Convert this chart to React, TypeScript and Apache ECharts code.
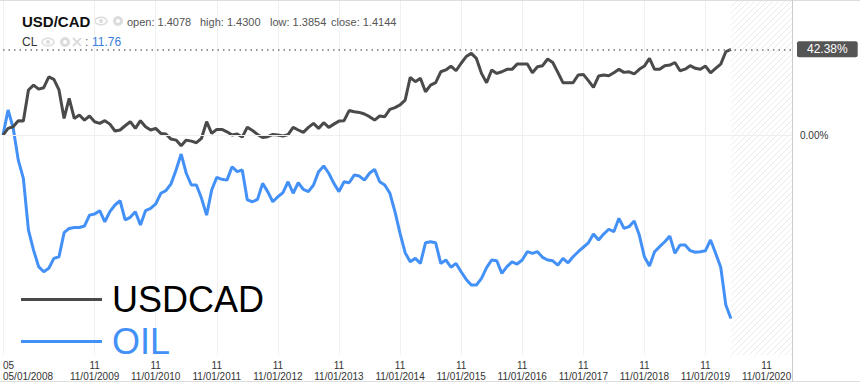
import React, { useEffect, useRef } from "react";
import * as echarts from "echarts";

// ---------- data ----------
const START_YEAR = 2008;
const START_MONTH = 5;
const MONTH_COUNT = 156; // axis runs past the last data point (future zone)

const categories: string[] = [];
for (let k = 0; k < MONTH_COUNT; k++) {
  const m = START_MONTH - 1 + k;
  const y = START_YEAR + Math.floor(m / 12);
  const mm = (m % 12) + 1;
  categories.push(`${y}-${mm < 10 ? "0" + mm : mm}`);
}

const usdcadPct = [
  0, 3.3, 4.1, 7.1, 6.9, 22.3, 24.7, 22.7, 23.4, 28.8,
  27.5, 22.3, 8.2, 18.1, 8.2, 9.9, 7.4, 9.4, 6.6, 5.8,
  7.1, 5.4, 2.0, 2.5, 4.6, 6.6, 3.3, 7.1, 4.1, 2.5,
  3.3, 0.8, 0.5, -2.0, -2.5, -5.3, -2.5, -3.0, -3.8, -1.6,
  6.6, 0.8, 2.8, 2.8, 1.6, 0, 0.5, -1.0, 3.9, 2.3,
  0.3, -1.2, -0.8, 0.3, 0, -0.5, 0.2, 3.8, 2.5, 1.3,
  3.8, 5.8, 3.3, 6.1, 3.8, 5.4, 6.9, 7.1, 12.1, 11.5,
  11.2, 10.4, 9.1, 7.4, 9.4, 9.1, 12.7, 13.6, 14.9, 17.3,
  28.5, 26.4, 28.1, 21.4, 24.7, 25.9, 31.3, 32.2, 34.1, 31.8,
  35.5, 38.8, 40.4, 37.9, 30.5, 25.9, 32.2, 30.5, 31.3, 32.5,
  32.5, 35.1, 35.1, 35.1, 30.8, 33.8, 34.3, 37.6, 35.9, 31.0,
  25.9, 25.9, 25.9, 29.7, 30.0, 26.9, 23.6, 29.2, 29.7, 29.3,
  30.8, 32.5, 31.0, 31.3, 30.2, 32.5, 34.1, 37.9, 32.5, 32.5,
  34.3, 34.6, 35.9, 31.8, 32.6, 34.3, 33.0, 32.5, 34.1, 30.8,
  33.0, 35.1, 41.2, 42.38,
];

const oilPct = [
  0, 12.4, 3.5, -12.4, -21.4, -47.0, -56.9, -65.1, -67.6, -65.9,
  -61.0, -60.2, -48.3, -46.2, -45.7, -45.7, -45.0, -39.6, -39.1, -37.4,
  -42.9, -37.9, -34.6, -32.5, -42.0, -40.7, -37.9, -44.5, -37.4, -36.3,
  -34.1, -28.8, -27.5, -24.2, -17.3, -9.4, -18.9, -24.7, -24.7, -31.3,
  -39.6, -27.2, -20.9, -21.9, -22.3, -15.7, -18.1, -17.3, -32.1, -33.0,
  -31.8, -23.9, -28.0, -33.0, -30.5, -28.5, -23.1, -28.8, -23.6, -26.9,
  -28.0, -24.7, -18.1, -15.3, -18.9, -23.9, -28.0, -23.1, -23.6, -19.8,
  -20.3, -22.3, -18.9, -17.0, -23.1, -24.7, -28.8, -37.9, -48.6, -58.2,
  -62.7, -61.0, -63.5, -53.3, -52.8, -53.3, -63.5, -61.8, -65.4, -63.5,
  -67.6, -71.4, -74.2, -74.2, -70.9, -65.6, -61.8, -62.2, -68.4, -65.1,
  -62.7, -63.8, -61.8, -57.7, -58.5, -57.7, -60.5, -61.8, -62.2, -64.3,
  -61.0, -63.2, -60.2, -57.7, -55.5, -53.3, -49.0, -51.9, -49.0, -46.6,
  -47.8, -41.2, -46.2, -45.3, -42.5, -49.5, -60.2, -64.8, -57.7, -55.2,
  -52.8, -50.0, -58.5, -54.4, -54.4, -57.2, -58.0, -57.7, -57.2, -51.9,
  -58.5, -65.4, -84.1, -90.77,
];

const seriesNames = ["USDCAD", "OIL"];
const headerSymbol = "USD/CAD";
const headerFields = ["open: 1.4078", "high: 1.4300", "low: 1.3854", "close: 1.4144"];
const clName = "CL";
const clValue = "11.76";

// ---------- style ----------
const FONT = 'Arial, "Liberation Sans", sans-serif';
const DARK = "#4a4a4a";
const BLUE = "#4390f7";
const W = 860;
const H = 384;
const GRID_LEFT = 2;
const GRID_RIGHT = 68;
const GRID_TOP = 0;
const GRID_BOTTOM = 29;
const Y_MIN = -108.8;
const Y_MAX = 66.8;

// first label, then every November from the second one on
const isTick = (idx: number, val: string) => idx === 0 || (idx >= 12 && val.slice(5) === "11");

function makeHatch(): any {
  const c = document.createElement("canvas");
  c.width = 6;
  c.height = 6;
  const ctx = c.getContext("2d");
  if (ctx) {
    ctx.fillStyle = "#ffffff";
    ctx.fillRect(0, 0, 6, 6);
    ctx.strokeStyle = "#ebebeb";
    ctx.lineWidth = 1;
    ctx.beginPath();
    ctx.moveTo(-1, 7);
    ctx.lineTo(7, -1);
    ctx.moveTo(-4, 4);
    ctx.lineTo(4, -4);
    ctx.moveTo(2, 10);
    ctx.lineTo(10, 2);
    ctx.stroke();
  }
  return { image: c, repeat: "repeat", imageWidth: 6, imageHeight: 6 };
}

export default function App() {
  const ref = useRef<HTMLDivElement>(null);

  useEffect(() => {
    if (!ref.current) return;
    const chart = echarts.init(ref.current, null, { renderer: "svg" });
    const lastIdx = usdcadPct.length - 1;
    const sepX = W - GRID_RIGHT + 0.5;

    const iconColor = "#dcdcdc";
    const eye = (cx: number, cy: number) => [
      { type: "ellipse", shape: { cx, cy, rx: 6, ry: 3.8 }, style: { fill: "none", stroke: iconColor, lineWidth: 1.5 } },
      { type: "circle", shape: { cx, cy, r: 2 }, style: { fill: iconColor } },
    ];
    const gear = (cx: number, cy: number) => [
      { type: "ring", shape: { cx, cy, r: 5, r0: 2 }, style: { fill: iconColor } },
    ];
    const cross = (cx: number, cy: number) => [
      { type: "line", shape: { x1: cx - 4, y1: cy - 4, x2: cx + 4, y2: cy + 4 }, style: { stroke: iconColor, lineWidth: 2 } },
      { type: "line", shape: { x1: cx - 4, y1: cy + 4, x2: cx + 4, y2: cy - 4 }, style: { stroke: iconColor, lineWidth: 2 } },
    ];
    const fieldX = [127, 200, 270, 331];

    const graphics: any[] = [
      { type: "line", shape: { x1: 0, y1: 0.5, x2: W, y2: 0.5 }, style: { stroke: "#dddddd", lineWidth: 1 }, z: 100 },
      { type: "line", shape: { x1: 0, y1: 381.5, x2: W, y2: 381.5 }, style: { stroke: "#dddddd", lineWidth: 1 }, z: 100 },
      { type: "line", shape: { x1: sepX, y1: 0, x2: sepX, y2: 382 }, style: { stroke: "#cccccc", lineWidth: 1 }, z: 100 },
      {
        type: "text", x: 22, y: 21, z: 100,
        style: { text: headerSymbol, font: `bold 15px ${FONT}`, fill: "#111", textVerticalAlign: "middle" },
      },
      ...eye(101, 21),
      ...gear(118, 21),
      ...headerFields.map((t, k) => ({
        type: "text", x: fieldX[k], y: 22, z: 100,
        style: { text: t, font: `11px ${FONT}`, fill: "#555", textVerticalAlign: "middle" },
      })),
      {
        type: "text", x: 22, y: 42, z: 100,
        style: { text: clName, font: `12px ${FONT}`, fill: "#333", textVerticalAlign: "middle" },
      },
      ...eye(48, 42),
      ...gear(65, 42),
      ...cross(77, 42),
      {
        type: "text", x: 85, y: 42, z: 100,
        style: { text: ":", font: `12px ${FONT}`, fill: "#666", textVerticalAlign: "middle" },
      },
      {
        type: "text", x: 92, y: 42, z: 100,
        style: { text: clValue, font: `12px ${FONT}`, fill: "#3b7ddd", textVerticalAlign: "middle" },
      },
    ];

    const boxLabel = (text: string, bg: string) => ({
      show: true,
      position: "end",
      distance: 5,
      formatter: text,
      color: "#fff",
      fontFamily: FONT,
      fontSize: 12,
      backgroundColor: bg,
      padding: [2, 10, 2, 10],
      borderRadius: 2,
    });

    chart.setOption({
      animation: false,
      backgroundColor: "#fff",
      grid: { left: GRID_LEFT, right: GRID_RIGHT, top: GRID_TOP, bottom: GRID_BOTTOM, containLabel: false },
      legend: {
        orient: "vertical",
        left: 16,
        top: 274,
        icon: "rect",
        itemWidth: 81,
        itemHeight: 3,
        itemGap: 1,
        selectedMode: false,
        textStyle: { fontSize: 36, lineHeight: 41, fontFamily: FONT, padding: [0, 0, 0, 5] },
        data: [
          { name: seriesNames[0], textStyle: { color: "#000" } },
          { name: seriesNames[1], textStyle: { color: BLUE } },
        ],
      },
      xAxis: {
        type: "category",
        data: categories,
        boundaryGap: false,
        axisLine: { show: false },
        axisTick: { show: false },
        axisLabel: {
          interval: isTick,
          alignMinLabel: "left",
          hideOverlap: false,
          formatter: (val: string) => {
            const y = val.slice(0, 4);
            const m = val.slice(5);
            return `${m}\n${m}/01/${y}`;
          },
          fontSize: 10,
          lineHeight: 11,
          margin: 5,
          color: "#333",
          fontFamily: FONT,
        },
        splitLine: { show: true, interval: isTick, lineStyle: { color: "#f0f0f0", width: 1 } },
      },
      yAxis: {
        type: "value",
        position: "right",
        min: Y_MIN,
        max: Y_MAX,
        axisLabel: { show: false },
        axisTick: { show: false },
        axisLine: { show: false },
        splitLine: { show: false },
      },
      graphic: graphics,
      series: [
        {
          name: seriesNames[1],
          type: "line",
          data: oilPct,
          showSymbol: false,
          color: BLUE,
          lineStyle: { color: BLUE, width: 3 },
          z: 3,
          markArea: {
            silent: true,
            itemStyle: { color: makeHatch() },
            data: [[{ xAxis: categories[lastIdx] }, { xAxis: categories[MONTH_COUNT - 1] }]],
          },
          markLine: {
            silent: true,
            symbol: ["none", "none"],
            data: [
              {
                yAxis: oilPct[lastIdx],
                lineStyle: { opacity: 0 },
                label: boxLabel(`${oilPct[lastIdx].toFixed(2)}%`, "#4a90f0"),
              },
            ],
          },
        },
        {
          name: seriesNames[0],
          type: "line",
          data: usdcadPct,
          showSymbol: false,
          color: DARK,
          lineStyle: { color: DARK, width: 3 },
          z: 4,
          markLine: {
            silent: true,
            symbol: ["none", "none"],
            data: [
              {
                yAxis: 0,
                lineStyle: { type: "solid", color: "#efefef", width: 1 },
                label: {
                  show: true,
                  position: "end",
                  distance: 8,
                  formatter: "0.00%",
                  color: "#333",
                  fontSize: 10,
                  fontFamily: FONT,
                },
              },
              {
                yAxis: usdcadPct[lastIdx],
                lineStyle: { type: [1.5, 4], color: "#777", width: 1.5 },
                label: boxLabel(`${usdcadPct[lastIdx].toFixed(2)}%`, "#555"),
              },
            ],
          },
        },
      ],
    });

    return () => chart.dispose();
  }, []);

  return <div ref={ref} style={{ position: "fixed", left: 0, top: 0, width: W, height: H }} />;
}
